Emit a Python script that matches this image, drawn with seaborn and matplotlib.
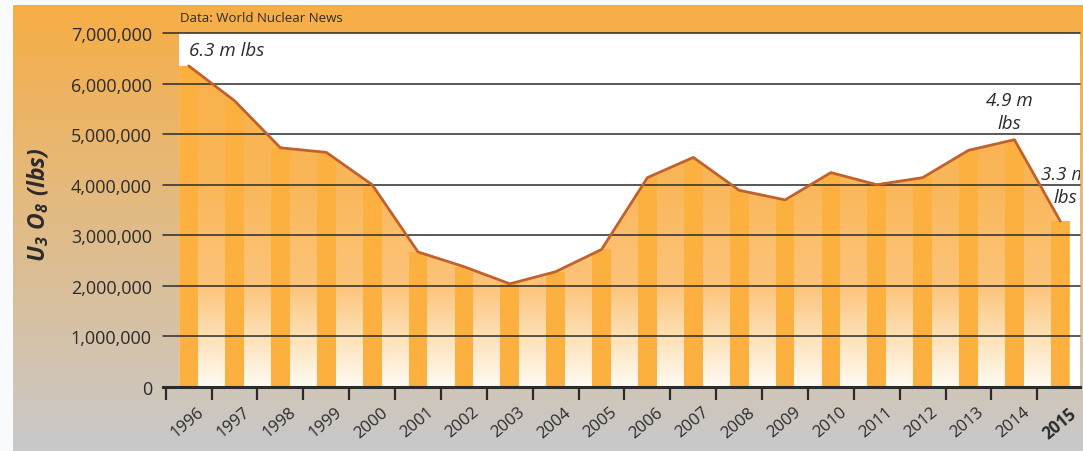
import numpy as np
import pandas as pd
import matplotlib
matplotlib.use("Agg")
import matplotlib.pyplot as plt
import seaborn as sns
from matplotlib.colors import LinearSegmentedColormap
from matplotlib.path import Path

# Dados (U3O8 em lbs)
years = ["1996", "1997", "1998", "1999", "2000", "2001", "2002", "2003", "2004", "2005",
         "2006", "2007", "2008", "2009", "2010", "2011", "2012", "2013", "2014", "2015"]
production = [6.35e6, 5.66e6, 4.73e6, 4.64e6, 4.00e6, 2.67e6, 2.38e6, 2.04e6, 2.28e6, 2.72e6,
              4.14e6, 4.54e6, 3.89e6, 3.70e6, 4.24e6, 4.00e6, 4.14e6, 4.68e6, 4.89e6, 3.28e6]
y_ticks = [0, 1e6, 2e6, 3e6, 4e6, 5e6, 6e6, 7e6]
callouts = [("6.3 m lbs", 0, 6.66e6, "left"),
            ("4.9 m\nlbs", 17.9, 5.45e6, "center"),
            ("3.3 m\nlbs", 19.1, 3.98e6, "center")]

W, H = 1083, 452
ink = "#2b2b2b"
bar_color = "#fbb040"
line_color = "#c1622b"
bar_w = 0.41

sns.set_theme(style="white")
plt.rcParams["font.family"] = ["Open Sans", "DejaVu Sans"]
plt.rcParams["mathtext.fontset"] = "custom"
plt.rcParams["mathtext.bfit"] = "Open Sans:italic:bold"
plt.rcParams["mathtext.rm"] = "Open Sans:italic:bold"

fig = plt.figure(figsize=(W / 100, H / 100), dpi=100)
fig.patch.set_facecolor("#f8fafb")

# Moldura com degradê laranja -> cinza
bg = fig.add_axes([13 / W, 0, 1 - 13 / W, 1 - 6 / H], zorder=0)
bg_cmap = LinearSegmentedColormap.from_list("bg", ["#f7ae45", "#c9c9cb"])
bg.imshow(np.linspace(0, 1, 256)[:, None], aspect="auto", cmap=bg_cmap, extent=[0, 1, 0, 1])
bg.axis("off")

ax = fig.add_axes([163 / W, 1 - 388 / H, (1080 - 163) / W, (388 - 34) / H], zorder=1)
ax.set_facecolor("none")

df = pd.DataFrame({"year": years, "lbs": production})
x = np.arange(len(years))
xmin, xmax = -0.56, 19.43

# Área branca do gráfico
ax.axvspan(-bar_w / 2, xmax, color="white", zorder=0, lw=0)

# Contorno da área (estendido até a borda da primeira e da última barra)
xs = np.concatenate([[-bar_w / 2], x, [x[-1] + bar_w / 2]])
ys = np.concatenate([[production[0]], production, [production[-1]]])
verts = [(xs[0], 0)] + list(zip(xs, ys)) + [(xs[-1], 0), (xs[0], 0)]
area_path = Path(verts, closed=True)

# Área sob a linha com degradê
fill_cmap = LinearSegmentedColormap.from_list(
    "fill",
    [(0, "#fffbf3"), (1 / 7, "#fde0b5"), (2 / 7, "#fcc47a"), (4 / 7, "#fab75a"), (1, "#f9b044")])
im = ax.imshow(np.linspace(0, 1, 256)[:, None], aspect="auto", origin="lower", cmap=fill_cmap,
               extent=[xmin, xmax, 0, 7e6], zorder=1)
im.set_clip_path(area_path, ax.transData)

# Barras
sns.barplot(data=df, x="year", y="lbs", color=bar_color, saturation=1, width=bar_w,
            ax=ax, zorder=2, linewidth=0)
for bar in ax.containers[0]:
    bar.set_clip_path(area_path, ax.transData)

# Linhas de grade
for yv in y_ticks[1:]:
    ax.axhline(yv, color=ink, lw=1.1, zorder=3, clip_on=False)

# Linha
sns.lineplot(x=x, y=production, color=line_color, lw=2, ax=ax, zorder=4)

ax.set_xlim(xmin, xmax)
ax.set_ylim(0, 7e6)
ax.set_xlabel("")
ax.set_ylabel("")

for s in ["top", "right", "left"]:
    ax.spines[s].set_visible(False)
ax.spines["bottom"].set_color(ink)
ax.spines["bottom"].set_linewidth(2.2)

ax.set_yticks(y_ticks)
ax.set_yticklabels([f"{int(v):,}" for v in y_ticks])
ax.tick_params(axis="y", length=0, pad=8, labelsize=13, labelcolor=ink)

ax.set_xticks(x + 0.18)
ax.set_xticklabels(years)
ax.set_xticks(x - 0.5, minor=True)
ax.tick_params(axis="x", which="major", length=0, pad=12, labelsize=12, labelcolor=ink)
ax.tick_params(axis="x", which="minor", bottom=True, length=9, width=1.6, color=ink, direction="out")
for lbl in ax.get_xticklabels():
    lbl.set_rotation(40)
    lbl.set_ha("right")
    lbl.set_va("top")
    lbl.set_rotation_mode("anchor")
ax.get_xticklabels()[-1].set_fontweight("bold")

# Rótulos
for txt, xi, yi, ha in callouts:
    ax.text(xi, yi, txt, ha=ha, va="center", fontsize=13.5, style="italic", color=ink,
            linespacing=1.35, zorder=5, clip_on=True)

fig.text(180 / W, 1 - 19 / H, "Data: World Nuclear News", fontsize=9.5, va="center", color=ink)
fig.text(38 / W, 1 - 205 / H, r"$\mathbfit{U_3\ O_8\ (lbs)}$", rotation=90, ha="center",
         va="center", fontsize=16.5, color=ink)

plt.savefig("out.png", dpi=100)
plt.close()
